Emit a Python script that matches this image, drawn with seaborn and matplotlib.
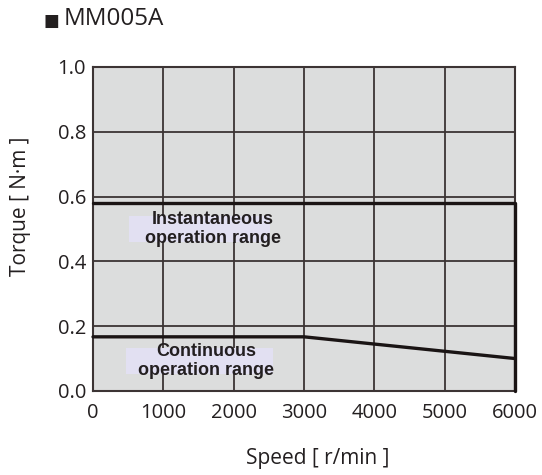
import matplotlib
matplotlib.use('Agg')
import matplotlib.pyplot as plt
import seaborn as sns
import pandas as pd
from matplotlib.patches import Rectangle

# torque-speed curve data for MM005A
inst_speed = [0, 6000, 6000]
inst_torque = [0.58, 0.58, 0.0]
cont_speed = [0, 3000, 6000]
cont_torque = [0.167, 0.167, 0.10]

x_ticks = [0, 1000, 2000, 3000, 4000, 5000, 6000]
y_ticks = [0.0, 0.2, 0.4, 0.6, 0.8, 1.0]

sns.set_style('white')
plt.rcParams['font.family'] = ['Open Sans', 'DejaVu Sans']

fig = plt.figure(figsize=(5.42, 4.75), dpi=100)
ax = fig.add_axes([0.1716, 0.177, 0.7786, 0.682])
ax.set_facecolor('#dcdddd')

inst_df = pd.DataFrame({'speed': inst_speed, 'torque': inst_torque})
cont_df = pd.DataFrame({'speed': cont_speed, 'torque': cont_torque})
sns.lineplot(data=inst_df, x='speed', y='torque', sort=False, estimator=None,
             color='#1a1414', linewidth=2.4, ax=ax, zorder=5, clip_on=False)
sns.lineplot(data=cont_df, x='speed', y='torque', sort=False, estimator=None,
             color='#1a1414', linewidth=2.4, ax=ax, zorder=5, clip_on=False)

ax.set_xlim(0, 6000)
ax.set_ylim(0, 1.0)
ax.set_xticks(x_ticks)
ax.set_yticks(y_ticks)
ax.set_yticklabels([f'{v:.1f}' for v in y_ticks])
ax.grid(True, color='#3c3434', linewidth=1.3)
ax.tick_params(axis='x', length=0, labelsize=14.5, colors='#231f20', pad=9)
ax.tick_params(axis='y', length=0, labelsize=14.5, colors='#231f20', pad=5)
for s in ax.spines.values():
    s.set_color('#3c3434')
    s.set_linewidth(1.5)

ax.set_xlabel('Speed [ r/min ]', fontsize=15, color='#231f20', va='center')
ax.set_ylabel('Torque [ N·m ]', fontsize=15, color='#231f20', va='center')
ax.xaxis.set_label_coords(0.533, -0.21)
ax.yaxis.set_label_coords(-0.173, 0.57)

# lavender label boxes
ax.add_patch(Rectangle((510, 0.46), 2010, 0.08, color='#e2e0f2', zorder=3, lw=0))
ax.add_patch(Rectangle((470, 0.053), 2090, 0.08, color='#e2e0f2', zorder=3, lw=0))
ax.text(1700, 0.50, 'Instantaneous\noperation range', ha='center', va='center',
        fontsize=13, fontweight='bold', family='Liberation Sans', color='#231f20',
        linespacing=1.15, zorder=6)
ax.text(1610, 0.092, 'Continuous\noperation range', ha='center', va='center',
        fontsize=13, fontweight='bold', family='Liberation Sans', color='#231f20',
        linespacing=1.15, zorder=6)

fig.text(0.080, 0.953, '■', fontsize=12, color='#231f20', va='center')
fig.text(0.118, 0.960, 'MM005A', fontsize=17.5, color='#231f20', va='center')

fig.savefig('out.png', dpi=100)
